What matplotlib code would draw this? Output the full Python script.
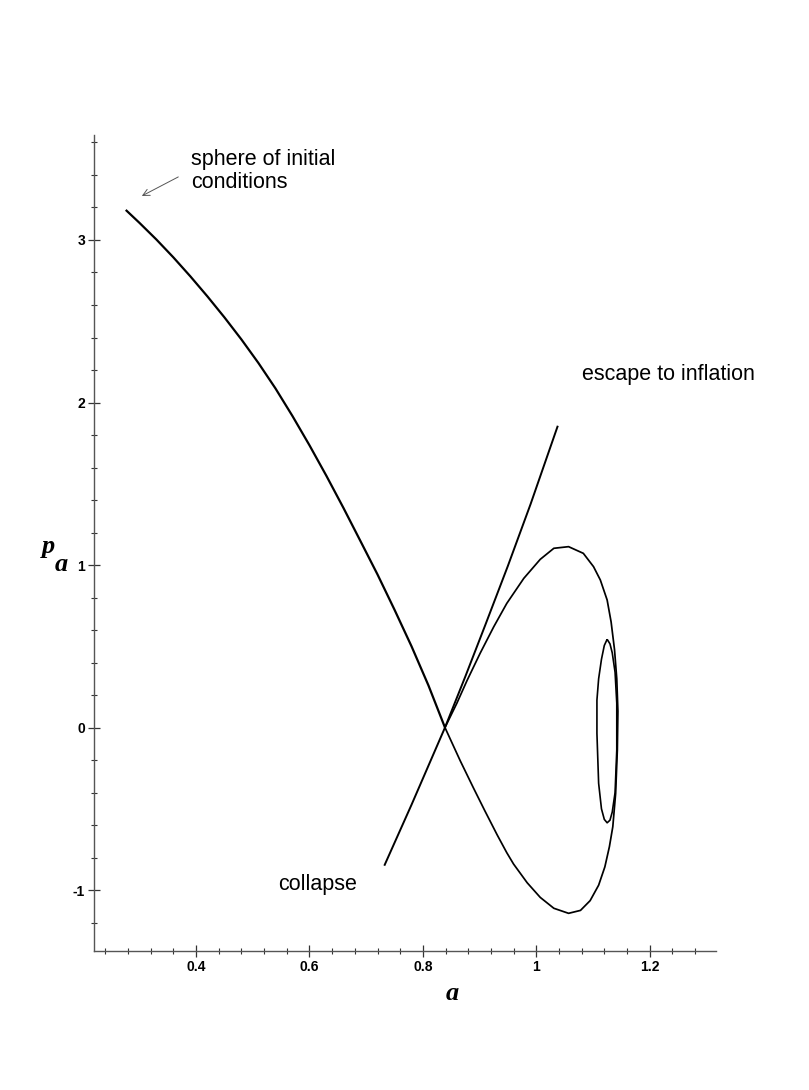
import numpy as np
import matplotlib
matplotlib.use("Agg")
import matplotlib.pyplot as plt
from matplotlib.ticker import MultipleLocator, FuncFormatter

# trajectory from the sphere of initial conditions down to the saddle point
branch_a = [0.276, 0.300, 0.330, 0.360, 0.390, 0.420, 0.450, 0.480, 0.510, 0.540,
            0.570, 0.600, 0.630, 0.660, 0.690, 0.720, 0.750, 0.780, 0.810, 0.839]
branch_p = [3.185, 3.106, 3.003, 2.893, 2.776, 2.653, 2.524, 2.388, 2.243, 2.087,
            1.917, 1.737, 1.548, 1.351, 1.147, 0.942, 0.725, 0.500, 0.258, 0.000]

# ... then round the big loop and back into the saddle
loop_a = [0.839, 0.866, 0.889, 0.909, 0.931, 0.948, 0.960, 0.984, 1.007, 1.031,
          1.057, 1.078, 1.095, 1.110, 1.121, 1.129, 1.135, 1.140, 1.143, 1.144,
          1.142, 1.138, 1.132, 1.125, 1.113, 1.101, 1.083, 1.057, 1.031, 1.007,
          0.978, 0.948, 0.925, 0.901, 0.878, 0.860, 0.839]
loop_p = [0.000, -0.205, -0.370, -0.510, -0.660, -0.770, -0.840, -0.955, -1.045, -1.112,
          -1.143, -1.125, -1.065, -0.970, -0.857, -0.733, -0.610, -0.405, -0.138, 0.100,
          0.300, 0.480, 0.650, 0.785, 0.908, 0.990, 1.072, 1.113, 1.103, 1.035,
          0.918, 0.764, 0.620, 0.457, 0.290, 0.150, 0.000]

# unstable direction: collapse <-> escape to inflation
esc_a = [0.732, 0.780, 0.839, 0.875, 0.910, 0.950, 0.990, 1.038]
esc_p = [-0.850, -0.475, 0.000, 0.315, 0.630, 0.995, 1.375, 1.857]

# small inner loop
inner_a = [1.125, 1.130, 1.134, 1.139, 1.142, 1.142, 1.139, 1.134, 1.130, 1.125,
           1.120, 1.115, 1.110, 1.107, 1.107, 1.110, 1.115, 1.120, 1.125]
inner_p = [0.543, 0.515, 0.460, 0.340, 0.150, -0.138, -0.400, -0.520, -0.570, -0.586,
           -0.565, -0.500, -0.343, -0.036, 0.169, 0.300, 0.420, 0.505, 0.543]

W, H = 809, 1090


def _fx(px):
    return px / W


def _fy(py):
    return 1 - py / H


fig = plt.figure(figsize=(W / 100, H / 100), dpi=100)
ax = fig.add_axes([_fx(94), _fy(950.7), _fx(716) - _fx(94), _fy(135) - _fy(950.7)])

line_kw = dict(color="k", solid_joinstyle="round", solid_capstyle="butt")
ax.plot(branch_a, branch_p, lw=1.6, **line_kw)
ax.plot(loop_a, loop_p, lw=1.25, **line_kw)
ax.plot(esc_a, esc_p, lw=1.4, **line_kw)
ax.plot(inner_a, inner_p, lw=1.2, **line_kw)

ax.set_xlim(0.22, 1.317)
ax.set_ylim(-1.373, 3.646)

for side in ("top", "right"):
    ax.spines[side].set_visible(False)
for side in ("left", "bottom"):
    ax.spines[side].set_color("#555555")
    ax.spines[side].set_linewidth(1.0)

ax.xaxis.set_major_locator(MultipleLocator(0.2))
ax.xaxis.set_minor_locator(MultipleLocator(0.04))
ax.yaxis.set_major_locator(MultipleLocator(1))
ax.yaxis.set_minor_locator(MultipleLocator(0.2))
ax.xaxis.set_major_formatter(FuncFormatter(lambda v, _: f"{v:g}"))
ax.yaxis.set_major_formatter(FuncFormatter(lambda v, _: f"{v:g}"))
ax.tick_params(which="major", direction="inout", length=9, width=0.9, color="#333333",
               labelsize=10, pad=2)
ax.tick_params(which="minor", direction="inout", length=4, width=0.8, color="#333333")
for lab in ax.get_xticklabels() + ax.get_yticklabels():
    lab.set_fontweight("bold")
    lab.set_family("Liberation Sans")

txt = dict(family="Liberation Sans", fontsize=15.5, color="k")
ax.text(0.391, 3.462, "sphere of initial", va="baseline", **txt)
ax.text(0.391, 3.318, "conditions", va="baseline", **txt)
ax.text(1.081, 2.138, "escape to inflation", va="baseline", clip_on=False, **txt)
ax.text(0.545, -1.0, "collapse", va="baseline", **txt)

ax.annotate("", xy=(0.300, 3.263), xytext=(0.373, 3.396),
            arrowprops=dict(arrowstyle="->", color="#555555", lw=0.7,
                            mutation_scale=12))

lab = dict(family="Liberation Serif", fontweight="bold", style="italic",
           fontsize=19, color="k")
fig.text(_fx(452), _fy(1000), "a", ha="center", va="baseline", **lab)
fig.text(_fx(48), _fy(553), "p", ha="center", va="baseline", **lab)
fig.text(_fx(61), _fy(571), "a", ha="center", va="baseline", **lab)

fig.savefig("out.png", dpi=100)
